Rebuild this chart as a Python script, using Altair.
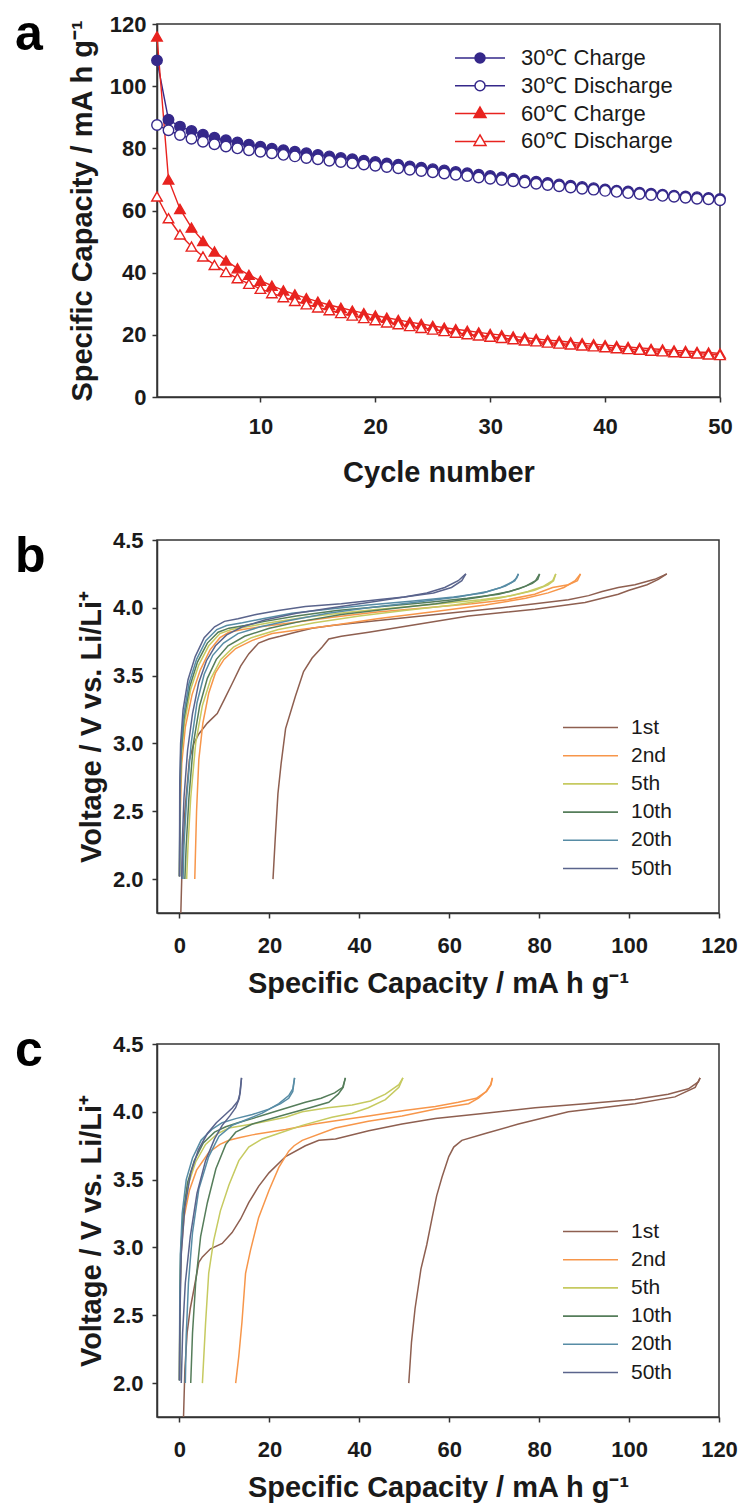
import altair as alt
import pandas as pd

FONT = "Liberation Sans"
INK = "#1a1a1a"

# ---------------- Panel a: cycling data ----------------
cycles = list(range(1, 51))
cap30_charge = [108.3, 89.2, 87.0, 85.6, 84.4, 83.4, 82.6, 81.9, 81.2, 80.5,
                79.9, 79.4, 78.9, 78.4, 77.9, 77.4, 76.9, 76.5, 76.0, 75.6,
                75.1, 74.7, 74.2, 73.8, 73.3, 72.9, 72.4, 72.0, 71.5, 71.1,
                70.6, 70.2, 69.7, 69.3, 68.9, 68.4, 68.0, 67.6, 67.2, 66.8,
                66.4, 66.1, 65.7, 65.4, 65.1, 64.8, 64.5, 64.3, 64.0, 63.7]
cap30_discharge = [87.5, 85.8, 84.3, 83.1, 82.1, 81.3, 80.6, 80.0, 79.4, 78.9,
                   78.4, 77.9, 77.4, 76.9, 76.5, 76.0, 75.6, 75.2, 74.8, 74.4,
                   74.0, 73.6, 73.1, 72.7, 72.3, 71.9, 71.5, 71.1, 70.6, 70.2,
                   69.8, 69.4, 69.0, 68.6, 68.2, 67.8, 67.4, 67.0, 66.7, 66.3,
                   66.0, 65.6, 65.3, 65.0, 64.7, 64.4, 64.1, 63.8, 63.6, 63.3]
cap60_charge = [116.0, 70.0, 60.5, 54.5, 50.2, 46.8, 43.9, 41.4, 39.3, 37.4,
                35.8, 34.3, 33.0, 31.8, 30.7, 29.6, 28.7, 27.8, 27.0, 26.2,
                25.5, 24.8, 24.1, 23.5, 22.9, 22.3, 21.8, 21.3, 20.8, 20.3,
                19.9, 19.5, 19.1, 18.7, 18.3, 18.0, 17.6, 17.3, 17.0, 16.7,
                16.4, 16.1, 15.8, 15.5, 15.3, 15.0, 14.8, 14.5, 14.3, 14.0]
cap60_discharge = [64.5, 57.5, 52.3, 48.4, 45.2, 42.5, 40.2, 38.2, 36.4, 34.8,
                   33.4, 32.1, 30.9, 29.8, 28.8, 27.9, 27.0, 26.2, 25.4, 24.7,
                   24.0, 23.4, 22.8, 22.2, 21.7, 21.2, 20.7, 20.2, 19.8, 19.4,
                   19.0, 18.6, 18.2, 17.9, 17.5, 17.2, 16.9, 16.6, 16.3, 16.0,
                   15.7, 15.4, 15.2, 14.9, 14.7, 14.4, 14.2, 14.0, 13.7, 13.5]

series_names = ["30℃ Charge", "30℃ Discharge", "60℃ Charge", "60℃ Discharge"]
series_stroke = ["#35288a", "#35288a", "#e8231f", "#e8231f"]
series_fill = ["#35288a", "#ffffff", "#e8231f", "#ffffff"]
series_plain_shape = ["circle", "circle", "triangle-up", "triangle-up"]
# legend glyphs: marker with a line through it
series_legend_shape = [
    "M-5,0H-1M1,0H5M-1,0A1,1 0 1,1 1,0A1,1 0 1,1 -1,0Z",
    "M-5,0H-1M1,0H5M-1,0A1,1 0 1,1 1,0A1,1 0 1,1 -1,0Z",
    "M-5,0H-0.74M0.74,0H5M0,-1.3L1.2,0.8L-1.2,0.8Z",
    "M-5,0H-0.74M0.74,0H5M0,-1.3L1.2,0.8L-1.2,0.8Z",
]
series_values = [cap30_charge, cap30_discharge, cap60_charge, cap60_discharge]

rows = []
for name, vals in zip(series_names, series_values):
    for c, v in zip(cycles, vals):
        rows.append({"cycle": c, "cap": v, "series": name})
df_a = pd.DataFrame(rows)

# ---------------- Panels b, c: voltage profiles ----------------
cycle_labels = ["1st", "2nd", "5th", "10th", "20th", "50th"]
cycle_colors = ["#8e5f50", "#f7964a", "#c6ca60", "#557d5a", "#578ca5", "#5a648c"]

B1_CH = [(0.3, 1.75), (0.5, 2.0), (1.2, 2.5), (2.2, 2.88), (3.2, 3.0), (4.3, 3.07), (6.2, 3.15),
         (8.4, 3.22), (9.9, 3.32), (11.7, 3.44), (13.6, 3.57), (15.4, 3.66), (17.6, 3.74),
         (19.9, 3.77), (22.4, 3.79), (25.8, 3.82), (29.5, 3.85), (33.9, 3.87), (42.1, 3.9),
         (57.0, 3.95), (71.7, 4.0), (86.5, 4.06), (91.0, 4.09), (94.0, 4.12), (97.6, 4.15),
         (101.3, 4.17), (105.7, 4.21), (108.4, 4.25)]
B1_DC = [(108.4, 4.25), (106.5, 4.21), (104.0, 4.17), (100.0, 4.13), (97.6, 4.10), (94.0, 4.07),
         (90.2, 4.04), (79.1, 3.99), (64.3, 3.94), (53.4, 3.88), (42.1, 3.82), (36.0, 3.79),
         (33.2, 3.77), (31.7, 3.71), (29.5, 3.63), (27.6, 3.53), (25.8, 3.35), (23.6, 3.11),
         (22.6, 2.85), (21.9, 2.63), (21.3, 2.3), (20.8, 2.0)]
B2_CH = [(0.0, 2.02), (0.2, 2.5), (0.5, 2.85), (1.3, 3.12), (2.8, 3.36), (4.6, 3.54), (6.8, 3.69),
         (9.0, 3.78), (11.0, 3.82), (14.0, 3.84), (18.0, 3.86), (25.0, 3.89), (34.0, 3.93),
         (44.0, 3.97), (55.0, 4.0), (65.0, 4.03), (73.0, 4.06), (79.0, 4.1), (83.0, 4.15),
         (86.5, 4.17), (88.5, 4.2), (89.2, 4.25)]
B2_DC = [(89.2, 4.25), (88.0, 4.2), (85.5, 4.15), (82.0, 4.11), (77.0, 4.07), (68.0, 4.02),
         (56.0, 3.97), (44.0, 3.92), (33.9, 3.87), (27.0, 3.84), (20.6, 3.81), (16.2, 3.76),
         (12.5, 3.7), (9.9, 3.62), (8.0, 3.52), (6.5, 3.37), (5.2, 3.15), (4.3, 2.88),
         (3.8, 2.5), (3.4, 2.0)]
B5_CH = [(0.0, 2.02), (0.15, 2.6), (0.4, 2.9), (1.1, 3.15), (2.5, 3.4), (4.3, 3.58), (6.5, 3.72),
         (9.0, 3.81), (11.5, 3.84), (15.0, 3.86), (20.0, 3.89), (28.0, 3.93), (38.0, 3.97),
         (48.0, 4.0), (58.0, 4.03), (67.0, 4.06), (74.0, 4.09), (79.0, 4.13), (82.0, 4.17),
         (83.2, 4.2), (83.7, 4.25)]
B5_DC = [(83.7, 4.25), (83.0, 4.2), (81.0, 4.16), (77.5, 4.12), (71.0, 4.07), (61.0, 4.02),
         (50.0, 3.98), (40.0, 3.94), (30.0, 3.89), (22.0, 3.84), (16.0, 3.78), (12.0, 3.71),
         (9.2, 3.62), (7.0, 3.48), (5.1, 3.28), (3.6, 3.0), (2.5, 2.6), (1.9, 2.25), (1.6, 2.0)]
B10_CH = [(0.0, 2.02), (0.12, 2.6), (0.35, 2.92), (1.0, 3.18), (2.3, 3.42), (4.0, 3.6), (6.2, 3.74),
          (8.6, 3.82), (11.0, 3.85), (14.5, 3.87), (19.0, 3.9), (26.0, 3.94), (35.0, 3.98),
          (45.0, 4.01), (55.0, 4.04), (64.0, 4.07), (71.0, 4.1), (75.5, 4.14), (78.5, 4.18),
          (79.7, 4.21), (80.1, 4.25)]
B10_DC = [(80.1, 4.25), (79.2, 4.2), (77.0, 4.16), (73.5, 4.12), (67.0, 4.08), (57.0, 4.03),
          (46.0, 3.99), (36.0, 3.95), (27.0, 3.9), (20.0, 3.85), (14.5, 3.79), (10.8, 3.72),
          (8.2, 3.62), (6.2, 3.48), (4.5, 3.28), (3.1, 3.0), (2.1, 2.6), (1.5, 2.25), (1.2, 2.0)]
B20_CH = [(0.0, 2.02), (0.1, 2.65), (0.3, 2.95), (0.9, 3.2), (2.1, 3.44), (3.8, 3.62), (5.9, 3.76),
          (8.3, 3.84), (10.5, 3.87), (14.0, 3.89), (18.5, 3.92), (25.0, 3.96), (33.0, 3.99),
          (42.0, 4.02), (52.0, 4.05), (61.0, 4.08), (67.5, 4.11), (71.5, 4.15), (74.0, 4.19),
          (75.0, 4.22), (75.4, 4.25)]
B20_DC = [(75.4, 4.25), (74.6, 4.2), (72.5, 4.16), (68.5, 4.12), (62.0, 4.08), (52.0, 4.04),
          (42.0, 4.0), (33.0, 3.96), (25.0, 3.91), (18.0, 3.86), (13.0, 3.81), (9.8, 3.74),
          (7.4, 3.65), (5.5, 3.51), (3.9, 3.3), (2.6, 3.0), (1.6, 2.6), (1.0, 2.25), (0.8, 2.0)]
B50_CH = [(0.0, 2.02), (0.06, 2.7), (0.25, 3.0), (0.8, 3.25), (1.9, 3.47), (3.5, 3.64), (5.5, 3.78),
          (7.8, 3.86), (10.0, 3.9), (13.0, 3.92), (17.0, 3.95), (22.0, 3.98), (28.0, 4.01),
          (36.0, 4.03), (44.0, 4.06), (50.0, 4.08), (55.0, 4.11), (59.0, 4.15), (62.0, 4.2),
          (63.7, 4.25)]
B50_DC = [(63.7, 4.25), (62.8, 4.2), (60.5, 4.15), (56.5, 4.11), (50.0, 4.08), (42.0, 4.04),
          (34.0, 4.0), (26.0, 3.96), (19.0, 3.91), (14.0, 3.86), (10.5, 3.8), (8.0, 3.72),
          (6.0, 3.61), (4.3, 3.45), (2.9, 3.22), (1.8, 2.95), (1.0, 2.6), (0.6, 2.25), (0.5, 2.0)]

C1_CH = [(0.9, 1.75), (1.2, 2.1), (1.7, 2.37), (2.4, 2.55), (3.2, 2.69), (4.3, 2.89), (5.1, 2.93),
         (6.9, 2.99), (9.5, 3.03), (11.7, 3.11), (13.6, 3.21), (15.4, 3.33), (17.6, 3.45),
         (19.9, 3.55), (23.6, 3.67), (28.0, 3.75), (31.0, 3.79), (34.7, 3.8), (42.1, 3.86),
         (49.5, 3.91), (56.9, 3.95), (68.0, 3.99), (79.1, 4.03), (90.2, 4.06), (101.3, 4.09),
         (108.7, 4.13), (113.2, 4.17), (115.4, 4.22), (115.8, 4.25)]
C1_DC = [(115.8, 4.25), (114.7, 4.18), (110.2, 4.11), (101.3, 4.06), (86.5, 4.0), (75.4, 3.91),
         (68.0, 3.84), (62.8, 3.79), (61.0, 3.74), (59.9, 3.67), (58.4, 3.52), (57.2, 3.38),
         (56.2, 3.22), (55.0, 3.02), (53.7, 2.84), (52.4, 2.55), (51.6, 2.3), (51.0, 2.0)]
C2_CH = [(0.0, 2.02), (0.1, 2.6), (0.35, 2.95), (1.0, 3.22), (2.2, 3.42), (3.8, 3.57), (6.5, 3.7),
         (9.0, 3.76), (11.0, 3.79), (13.5, 3.81), (16.2, 3.83), (23.6, 3.87), (30.0, 3.91),
         (34.0, 3.93), (42.1, 3.97), (50.0, 4.01), (56.9, 4.04), (62.0, 4.07), (66.0, 4.1),
         (68.3, 4.15), (69.3, 4.2), (69.6, 4.25)]
C2_DC = [(69.6, 4.25), (69.2, 4.2), (68.2, 4.15), (66.5, 4.1), (64.3, 4.06), (57.0, 4.02),
         (49.5, 3.97), (42.0, 3.93), (34.7, 3.88), (27.3, 3.79), (25.5, 3.75), (24.3, 3.71),
         (22.1, 3.59), (19.9, 3.42), (17.6, 3.22), (15.8, 2.98), (14.7, 2.81), (13.9, 2.45),
         (13.2, 2.2), (12.5, 2.0)]
C5_CH = [(0.0, 2.02), (0.1, 2.6), (0.3, 2.95), (0.9, 3.25), (2.0, 3.47), (3.6, 3.63), (5.8, 3.76),
         (8.5, 3.84), (11.0, 3.88), (16.2, 3.91), (23.6, 3.96), (27.3, 4.0), (33.0, 4.03),
         (38.4, 4.05), (42.5, 4.08), (45.8, 4.13), (48.8, 4.2), (49.7, 4.25)]
C5_DC = [(49.7, 4.25), (48.8, 4.18), (45.8, 4.09), (42.0, 4.03), (38.4, 3.99), (33.9, 3.96),
         (27.3, 3.9), (22.0, 3.84), (18.4, 3.8), (15.4, 3.74), (13.2, 3.64), (11.0, 3.46),
         (9.1, 3.27), (7.6, 3.05), (6.5, 2.81), (5.8, 2.44), (5.1, 2.0)]
C10_CH = [(0.0, 2.02), (0.08, 2.6), (0.25, 2.95), (0.8, 3.25), (1.8, 3.48), (3.3, 3.64), (5.3, 3.77),
          (7.8, 3.85), (10.3, 3.89), (13.0, 3.92), (16.2, 3.95), (20.0, 3.99), (24.0, 4.03),
          (28.0, 4.07), (31.5, 4.1), (34.5, 4.14), (36.3, 4.18), (36.9, 4.25)]
C10_DC = [(36.9, 4.25), (36.4, 4.18), (35.3, 4.13), (33.2, 4.07), (29.0, 4.03), (23.6, 3.98),
          (16.2, 3.91), (12.5, 3.85), (10.3, 3.76), (8.1, 3.58), (6.2, 3.33), (4.7, 3.08),
          (3.6, 2.74), (2.9, 2.37), (2.5, 2.0)]
C20_CH = [(0.0, 2.02), (0.06, 2.6), (0.2, 2.95), (0.6, 3.25), (1.5, 3.5), (2.9, 3.66), (4.8, 3.79),
          (7.2, 3.87), (9.5, 3.92), (12.5, 3.95), (16.2, 3.98), (19.9, 4.02), (22.5, 4.06),
          (24.3, 4.1), (25.2, 4.15), (25.6, 4.25)]
C20_DC = [(25.6, 4.25), (25.2, 4.17), (24.3, 4.12), (22.1, 4.06), (18.4, 3.99), (14.7, 3.94),
          (11.7, 3.9), (8.8, 3.82), (6.5, 3.67), (4.3, 3.43), (2.9, 3.11), (2.0, 2.74),
          (1.5, 2.35), (1.3, 2.0)]
C50_CH = [(0.0, 2.02), (0.1, 2.5), (0.4, 2.95), (1.2, 3.3), (2.5, 3.55), (4.2, 3.72), (6.2, 3.84),
          (8.2, 3.92), (10.2, 3.98), (11.8, 4.03), (13.0, 4.08), (13.5, 4.14), (13.8, 4.25)]
C50_DC = [(13.8, 4.25), (13.3, 4.1), (12.5, 4.03), (11.2, 3.97), (9.5, 3.9), (7.8, 3.8),
          (5.8, 3.64), (3.9, 3.4), (2.4, 3.08), (1.3, 2.74), (0.7, 2.37), (0.4, 2.0)]

curves_b = [("1st", B1_CH, B1_DC), ("2nd", B2_CH, B2_DC), ("5th", B5_CH, B5_DC),
            ("10th", B10_CH, B10_DC), ("20th", B20_CH, B20_DC), ("50th", B50_CH, B50_DC)]
curves_c = [("1st", C1_CH, C1_DC), ("2nd", C2_CH, C2_DC), ("5th", C5_CH, C5_DC),
            ("10th", C10_CH, C10_DC), ("20th", C20_CH, C20_DC), ("50th", C50_CH, C50_DC)]


def curves_frame(curves):
    out = []
    for cyc, ch, dc in curves:
        for seg, pts in (("charge", ch), ("discharge", dc)):
            for i, (c, v) in enumerate(pts):
                out.append({"cycle": cyc, "curve": cyc + "-" + seg, "idx": i, "cap": c, "volt": v})
    return pd.DataFrame(out)


df_b = curves_frame(curves_b)
df_c = curves_frame(curves_c)

W_A, H_A = 563, 373
W_B, H_B = 562, 373
LABEL_X = -142


def panel_label(letter, y):
    return alt.Chart(pd.DataFrame({"t": [letter]})).mark_text(
        align="left", baseline="alphabetic", font=FONT, fontSize=50,
        fontWeight="bold", color="#000"
    ).encode(text="t:N", x=alt.value(LABEL_X), y=alt.value(y))


# ---------- Panel a ----------
x_a = alt.X("cycle:Q", scale=alt.Scale(domain=[1, 50], nice=False, zero=False),
            axis=alt.Axis(values=[10, 20, 30, 40, 50], title="Cycle number", labelFlush=False,
                          labelPadding=14, titlePadding=21))
y_a = alt.Y("cap:Q", scale=alt.Scale(domain=[0, 120], nice=False),
            axis=alt.Axis(values=[0, 20, 40, 60, 80, 100, 120],
                          title="Specific Capacity / mA h g⁻¹", labelPadding=6, titlePadding=12))

layers_a = []
for name, col in zip(series_names, series_stroke):
    layers_a.append(
        alt.Chart(df_a).transform_filter(alt.datum.series == name)
        .mark_line(strokeWidth=1.4, color=col).encode(x=x_a, y=y_a)
    )
point_order = [0, 2, 1, 3]
for k in point_order:
    name = series_names[k]
    layers_a.append(
        alt.Chart(df_a).transform_filter(alt.datum.series == name)
        .mark_point(shape=series_plain_shape[k], size=110, strokeWidth=1.4,
                    stroke=series_stroke[k], fill=series_fill[k], opacity=1, fillOpacity=1)
        .encode(x=x_a, y=y_a)
    )

leg_a = alt.Legend(title=None, orient="none", legendX=312, legendY=23, padding=0,
                   symbolSize=100, symbolStrokeWidth=1.5, labelFont=FONT, labelFontSize=22,
                   labelColor=INK, labelOffset=30, rowPadding=5.8)
legend_layer = (
    alt.Chart(df_a).transform_filter("datum.cycle < 0")
    .mark_point(size=100, strokeWidth=1.5, opacity=1, filled=False)
    .encode(
        shape=alt.Shape("series:N", scale=alt.Scale(domain=series_names, range=series_legend_shape), legend=leg_a),
        fill=alt.Fill("series:N", scale=alt.Scale(domain=series_names, range=series_fill), legend=leg_a),
        stroke=alt.Stroke("series:N", scale=alt.Scale(domain=series_names, range=series_stroke), legend=leg_a),
    )
)
layers_a.append(legend_layer)
layers_a.append(panel_label("a", 26))
chart_a = alt.layer(*layers_a).properties(width=W_A, height=H_A)


# ---------- Panels b, c ----------
def voltage_panel(df, letter, label_y):
    leg = alt.Legend(title=None, orient="none", legendX=423, legendY=177, padding=0,
                     symbolType="M-5,0H5", symbolSize=121, symbolStrokeWidth=1.6,
                     labelFont=FONT, labelFontSize=21, labelColor=INK,
                     labelOffset=30, rowPadding=6.2)
    lines = alt.Chart(df).mark_line(strokeWidth=1.5, clip=True).encode(
        x=alt.X("cap:Q", scale=alt.Scale(domain=[-5, 120], nice=False, zero=False),
                axis=alt.Axis(values=[0, 20, 40, 60, 80, 100, 120], labelFlush=False,
                              title="Specific Capacity / mA h g⁻¹", labelPadding=17, titlePadding=13)),
        y=alt.Y("volt:Q", scale=alt.Scale(domain=[1.75, 4.5], nice=False, zero=False),
                axis=alt.Axis(values=[2.0, 2.5, 3.0, 3.5, 4.0, 4.5], format=".1f",
                              title="Voltage / V vs. Li/Li⁺", labelPadding=9, titlePadding=6)),
        color=alt.Color("cycle:N", scale=alt.Scale(domain=cycle_labels, range=cycle_colors), legend=leg),
        detail="curve:N",
        order="idx:Q",
    )
    return alt.layer(lines, panel_label(letter, label_y)).properties(width=W_B, height=H_B)


chart_b = voltage_panel(df_b, "b", 32)
chart_c = voltage_panel(df_c, "c", 22)

lower = (
    alt.vconcat(chart_b, chart_c, spacing=26)
    .resolve_scale(color="independent")
    .resolve_legend(color="independent")
)

chart = (
    alt.vconcat(chart_a, lower, spacing=40)
    .resolve_scale(color="independent", shape="independent", fill="independent", stroke="independent")
    .resolve_legend(color="independent", shape="independent", fill="independent", stroke="independent")
    .properties(padding={"left": 14, "top": 9, "right": 0, "bottom": 0}, background="white")
    .configure_axis(
        labelFont=FONT, labelFontSize=22, labelFontWeight="bold", labelColor=INK,
        titleFont=FONT, titleFontSize=29, titleFontWeight="bold", titleColor=INK,
        tickSize=5, tickWidth=1.5, tickColor="#333", domainColor="#333", domainWidth=1.5,
        grid=False,
    )
    .configure_view(stroke="#333", strokeWidth=1.5)
)

chart.save("out.html", embed_options={"renderer": "svg", "actions": False})
